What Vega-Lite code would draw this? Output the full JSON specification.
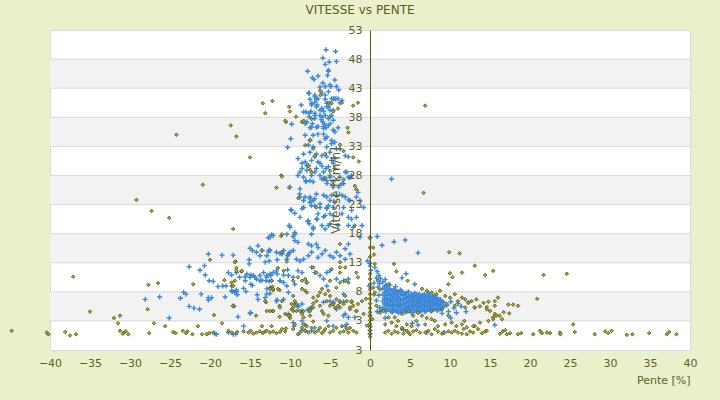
{
"$schema":"https://vega.github.io/schema/vega-lite/v6.json",
"width":640,"height":320,
"autosize":{"type":"none"},
"padding":{"left":50,"top":30,"right":30,"bottom":50},
"background":"#ebf0cc",
"config":{"view":{"fill":"white","stroke":"#d9d9d9","strokeWidth":1},"font":"DejaVu Sans","axis":{"labelOverlap":false,"labelFlush":false},"axisY":{"labelOverlap":false}},
"title":{"text":"VITESSE vs PENTE","fontSize":12,"font":"DejaVu Sans","fontWeight":"normal","color":"#5c5c1a","offset":7,"dx":-10},
"datasets":{
"bandes":[{"a":3,"b":8},{"a":13,"b":18},{"a":23,"b":28},{"a":33,"b":38},{"a":43,"b":48}],
"grille":[{"g":3},{"g":8},{"g":13},{"g":18},{"g":23},{"g":28},{"g":33},{"g":38},{"g":43},{"g":48}],
"bleu":[
{"x":0.9,"y":17.5},{"x":1.5,"y":16.0},{"x":3.0,"y":16.6},{"x":4.4,"y":16.9},{"x":6.0,"y":14.7},{"x":0,"y":12.9},{"x":0.1,"y":11.7},{"x":4.0,"y":10.4},{"x":5.6,"y":9.3},{"x":7.3,"y":7.8},{"x":9.0,"y":4.3},{"x":10.1,"y":3.5},{"x":12.3,"y":6.2},{"x":15.6,"y":2.3},{"x":6.0,"y":2.3},{"x":7.1,"y":1.0},{"x":9.3,"y":1.0},{"x":1.9,"y":3.5},{"x":2.7,"y":4.7},{"x":5.3,"y":2.6},{"x":4.2,"y":1.5},{"x":1.4,"y":4.8},{"x":4.5,"y":11.1},{"x":2.7,"y":27.4},
{"x":0,"y":0.8},{"x":0,"y":1.4},{"x":0,"y":2.1},{"x":-0.3,"y":13.3},{"x":-0.1,"y":9.0},{"x":0,"y":4.0},
{"x":1.6,"y":5.2},{"x":1.6,"y":6.4},{"x":1.6,"y":7.5},{"x":1.6,"y":8.6},
{"x":2.0,"y":4.6},{"x":2.0,"y":5.6},{"x":2.0,"y":6.5},{"x":2.0,"y":7.4},{"x":2.0,"y":8.3},{"x":2.0,"y":9.2},
{"x":2.4,"y":4.9},{"x":2.4,"y":5.8},{"x":2.4,"y":6.7},{"x":2.4,"y":7.6},{"x":2.4,"y":8.5},
{"x":2.8,"y":4.5},{"x":2.8,"y":5.4},{"x":2.8,"y":6.2},{"x":2.8,"y":7.1},{"x":2.8,"y":8.0},
{"x":3.2,"y":4.8},{"x":3.2,"y":5.7},{"x":3.2,"y":6.6},{"x":3.2,"y":7.5},{"x":3.2,"y":8.2},
{"x":3.6,"y":4.4},{"x":3.6,"y":5.3},{"x":3.6,"y":6.1},{"x":3.6,"y":7.0},{"x":3.6,"y":7.9},
{"x":4.0,"y":4.7},{"x":4.0,"y":5.6},{"x":4.0,"y":6.5},{"x":4.0,"y":7.4},{"x":4.0,"y":8.1},
{"x":4.4,"y":4.5},{"x":4.4,"y":5.2},{"x":4.4,"y":6.0},{"x":4.4,"y":6.9},{"x":4.4,"y":7.7},
{"x":4.8,"y":4.8},{"x":4.8,"y":5.6},{"x":4.8,"y":6.4},{"x":4.8,"y":7.2},{"x":4.8,"y":8.0},
{"x":5.2,"y":4.4},{"x":5.2,"y":5.3},{"x":5.2,"y":6.1},{"x":5.2,"y":6.9},{"x":5.2,"y":7.6},
{"x":5.6,"y":4.7},{"x":5.6,"y":5.5},{"x":5.6,"y":6.3},{"x":5.6,"y":7.1},{"x":5.6,"y":7.8},
{"x":6.0,"y":4.5},{"x":6.0,"y":5.2},{"x":6.0,"y":6.0},{"x":6.0,"y":6.8},{"x":6.0,"y":7.5},
{"x":6.4,"y":4.8},{"x":6.4,"y":5.6},{"x":6.4,"y":6.4},{"x":6.4,"y":7.2},
{"x":6.8,"y":4.6},{"x":6.8,"y":5.3},{"x":6.8,"y":6.1},{"x":6.8,"y":6.9},{"x":6.8,"y":7.6},
{"x":7.2,"y":4.9},{"x":7.2,"y":5.7},{"x":7.2,"y":6.5},{"x":7.2,"y":7.3},
{"x":7.6,"y":4.7},{"x":7.6,"y":5.4},{"x":7.6,"y":6.2},{"x":7.6,"y":7.0},
{"x":8.0,"y":5.0},{"x":8.0,"y":5.8},{"x":8.0,"y":6.6},{"x":8.0,"y":7.3},
{"x":8.4,"y":4.8},{"x":8.4,"y":5.5},{"x":8.4,"y":6.3},{"x":8.4,"y":7.0},
{"x":8.8,"y":5.1},{"x":8.8,"y":5.9},{"x":8.8,"y":6.7},
{"x":9.2,"y":5.4},{"x":9.2,"y":6.2},
{"x":1.8,"y":4.9},{"x":1.8,"y":5.9},{"x":1.8,"y":6.9},{"x":1.8,"y":7.9},{"x":1.8,"y":8.9},
{"x":2.2,"y":5.1},{"x":2.2,"y":6.1},{"x":2.2,"y":7.0},{"x":2.2,"y":7.9},{"x":2.2,"y":8.8},
{"x":2.6,"y":4.7},{"x":2.6,"y":5.6},{"x":2.6,"y":6.5},{"x":2.6,"y":7.4},{"x":2.6,"y":8.3},
{"x":3.0,"y":5.0},{"x":3.0,"y":5.9},{"x":3.0,"y":6.8},{"x":3.0,"y":7.7},{"x":3.0,"y":8.5},
{"x":3.4,"y":4.6},{"x":3.4,"y":5.5},{"x":3.4,"y":6.4},{"x":3.4,"y":7.2},{"x":3.4,"y":8.0},
{"x":3.8,"y":4.9},{"x":3.8,"y":5.8},{"x":3.8,"y":6.7},{"x":3.8,"y":7.6},{"x":3.8,"y":8.3},
{"x":4.2,"y":5.0},{"x":4.2,"y":5.9},{"x":4.2,"y":6.7},{"x":4.2,"y":7.5},
{"x":4.6,"y":4.6},{"x":4.6,"y":5.4},{"x":4.6,"y":6.2},{"x":4.6,"y":7.0},{"x":4.6,"y":7.8},
{"x":5.0,"y":4.9},{"x":5.0,"y":5.7},{"x":5.0,"y":6.5},{"x":5.0,"y":7.3},
{"x":5.4,"y":5.0},{"x":5.4,"y":5.8},{"x":5.4,"y":6.6},{"x":5.4,"y":7.4},
{"x":5.8,"y":4.9},{"x":5.8,"y":5.7},{"x":5.8,"y":6.5},{"x":5.8,"y":7.3},
{"x":6.2,"y":4.6},{"x":6.2,"y":5.4},{"x":6.2,"y":6.2},{"x":6.2,"y":7.0},{"x":6.2,"y":7.6},
{"x":6.6,"y":5.0},{"x":6.6,"y":5.8},{"x":6.6,"y":6.6},{"x":6.6,"y":7.4},
{"x":7.0,"y":4.7},{"x":7.0,"y":5.5},{"x":7.0,"y":6.3},{"x":7.0,"y":7.1},
{"x":7.4,"y":5.1},{"x":7.4,"y":5.9},{"x":7.4,"y":6.7},{"x":7.4,"y":7.4},
{"x":7.8,"y":4.9},{"x":7.8,"y":5.7},{"x":7.8,"y":6.5},{"x":7.8,"y":7.2},
{"x":8.2,"y":5.2},{"x":8.2,"y":6.0},{"x":8.2,"y":6.8},
{"x":8.6,"y":5.0},{"x":8.6,"y":5.7},{"x":8.6,"y":6.5},
{"x":9.0,"y":5.6},{"x":9.0,"y":6.4},
{"x":0.6,"y":12.2},{"x":0.9,"y":11.5},{"x":1.1,"y":10.8},{"x":1.3,"y":10.3},{"x":1.6,"y":9.7},{"x":1.9,"y":10.1},{"x":1.2,"y":9.4},{"x":0.8,"y":10.4},{"x":2.5,"y":9.2},{"x":3.2,"y":8.9},{"x":0.5,"y":9.5},{"x":1.0,"y":8.8},{"x":0.8,"y":6.5},{"x":1.1,"y":7.4},{"x":1.2,"y":5.3},{"x":0.9,"y":4.6},
{"x":9.6,"y":5.7},{"x":10.1,"y":6.3},{"x":10.5,"y":5.2},{"x":11.0,"y":6.0},{"x":11.4,"y":5.5},{"x":12.0,"y":4.6},{"x":9.8,"y":4.6},{"x":10.8,"y":4.4},
{"x":-5.5,"y":49.6},{"x":-4.3,"y":49.3},{"x":-5.9,"y":48.2},{"x":-5.1,"y":47.5},{"x":-5.6,"y":47.1},{"x":-4.2,"y":47.6},{"x":-7.8,"y":45.9},{"x":-5.2,"y":46.1},{"x":-7.2,"y":44.8},{"x":-7.0,"y":44.5},{"x":-6.5,"y":45.1},{"x":-5.3,"y":45.2},{"x":-5.0,"y":43.6},{"x":-4.9,"y":43.3},{"x":-4.2,"y":43.3},{"x":-3.9,"y":42.7},{"x":-5.9,"y":43.9},{"x":-6.25,"y":43.2},{"x":-7.6,"y":42.1},{"x":-6.9,"y":41.5},{"x":-6.7,"y":41.1},{"x":-6.9,"y":40.6},{"x":-5.6,"y":41.1},{"x":-5.4,"y":40.4},{"x":-5.2,"y":39.8},{"x":-4.6,"y":41.2},{"x":-4.25,"y":41.2},{"x":-3.75,"y":40.5},{"x":-8.6,"y":40.1},{"x":-8.0,"y":38.9},{"x":-7.4,"y":39.0},{"x":-6.9,"y":38.7},{"x":-6.25,"y":38.3},{"x":-6.1,"y":37.6},{"x":-5.9,"y":37.2},{"x":-5.7,"y":36.8},{"x":-5.5,"y":36.2},{"x":-9.8,"y":36.8},{"x":-7.9,"y":37.2},{"x":-7.5,"y":36.2},{"x":-7.1,"y":34.9},{"x":-6.5,"y":35.1},{"x":-5.8,"y":35.1},{"x":-5.4,"y":34.6},{"x":-4.8,"y":34.0},{"x":-4.4,"y":33.7},{"x":-3.75,"y":32.6},{"x":-3.1,"y":31.4},{"x":-2.7,"y":31.2},{"x":-9.9,"y":34.3},{"x":-10.3,"y":32.8},{"x":-9.0,"y":30.9},{"x":-8.5,"y":30.1},{"x":-7.9,"y":29.7},{"x":-7.3,"y":30.6},{"x":-6.9,"y":31.2},{"x":-6.5,"y":30.3},{"x":-6.0,"y":29.6},{"x":-5.5,"y":29.2},{"x":-4.8,"y":30.6},{"x":-8.75,"y":28.6},{"x":-8.3,"y":27.7},{"x":-8.0,"y":26.9},{"x":-7.5,"y":27.1},{"x":-6.9,"y":28.6},{"x":-6.25,"y":28.0},{"x":-5.8,"y":27.4},{"x":-5.4,"y":27.1},{"x":-5.0,"y":28.0},{"x":-4.6,"y":26.9},{"x":-3.9,"y":26.0},{"x":-3.3,"y":26.6},{"x":-3.1,"y":28.6},{"x":-2.7,"y":27.7},{"x":-2.3,"y":28.0},{"x":-8.8,"y":24.8},{"x":-8.75,"y":24.3},{"x":-8.3,"y":23.7},{"x":-7.5,"y":24.3},{"x":-6.9,"y":24.0},{"x":-6.25,"y":23.1},{"x":-5.4,"y":24.3},{"x":-4.8,"y":24.6},{"x":-4.4,"y":23.4},{"x":-3.5,"y":24.6},{"x":-2.7,"y":23.8},{"x":-1.7,"y":24.3},{"x":-1.25,"y":23.7},{"x":-9.9,"y":22.1},
{"x":-7.7,"y":42.2},{"x":-7.5,"y":41.1},{"x":-6.9,"y":41.8},{"x":-6.5,"y":41.2},{"x":-6.0,"y":42.2},{"x":-5.6,"y":41.8},{"x":-5.2,"y":42.4},{"x":-4.8,"y":41.2},{"x":-4.4,"y":41.2},{"x":-4.0,"y":41.2},{"x":-3.5,"y":40.9},{"x":-7.3,"y":40.1},{"x":-6.7,"y":39.8},{"x":-6.0,"y":39.5},{"x":-5.0,"y":39.2},{"x":-8.3,"y":38.9},{"x":-7.6,"y":38.1},{"x":-6.9,"y":38.3},{"x":-5.6,"y":38.3},{"x":-5.0,"y":38.1},{"x":-4.6,"y":37.5},{"x":-8.1,"y":36.9},{"x":-7.3,"y":36.3},{"x":-6.7,"y":36.3},{"x":-5.8,"y":36.4},{"x":-5.2,"y":36.6},{"x":-4.0,"y":36.2},{"x":-5.2,"y":45.9},{"x":-4.4,"y":44.4},{"x":-5.6,"y":43.3},
{"x":-7.6,"y":38.7},{"x":-7.3,"y":40.4},{"x":-6.6,"y":40.1},{"x":-6.25,"y":39.2},{"x":-5.8,"y":39.0},{"x":-5.4,"y":39.8},{"x":-5.0,"y":40.4},{"x":-4.6,"y":39.2},{"x":-4.8,"y":38.3},{"x":-5.2,"y":37.8},{"x":-6.0,"y":38.0},{"x":-6.9,"y":37.8},{"x":-7.2,"y":36.9},{"x":-6.5,"y":36.4},{"x":-5.8,"y":36.1},{"x":-5.0,"y":36.9},{"x":-4.6,"y":35.8},{"x":-4.4,"y":35.5},
{"x":-8.1,"y":34.9},{"x":-7.5,"y":34.0},{"x":-7.7,"y":33.2},{"x":-7.1,"y":32.9},{"x":-6.25,"y":33.7},{"x":-5.6,"y":34.3},{"x":-5.4,"y":32.9},{"x":-4.8,"y":33.5},{"x":-4.2,"y":32.6},{"x":-7.5,"y":32.0},{"x":-6.7,"y":31.7},{"x":-6.0,"y":31.4},{"x":-5.4,"y":31.2},{"x":-5.0,"y":32.0},{"x":-4.4,"y":30.9},{"x":-8.3,"y":31.7},
{"x":-8.1,"y":30.3},{"x":-7.7,"y":29.7},{"x":-7.9,"y":28.9},{"x":-7.3,"y":28.0},{"x":-8.0,"y":27.1},{"x":-7.1,"y":26.9},{"x":-6.7,"y":29.2},{"x":-6.25,"y":30.1},{"x":-5.8,"y":28.6},{"x":-5.2,"y":29.5},{"x":-4.6,"y":30.1},{"x":-4.4,"y":29.2},{"x":-5.0,"y":27.7},{"x":-6.0,"y":27.4},{"x":-5.4,"y":26.6},{"x":-4.6,"y":26.0},{"x":-3.75,"y":27.7},{"x":-3.5,"y":26.6},{"x":-2.9,"y":28.6},{"x":-2.5,"y":27.7},{"x":-8.5,"y":29.2},{"x":-9.0,"y":28.0},
{"x":-8.75,"y":25.7},{"x":-8.1,"y":24.3},{"x":-7.5,"y":24.0},{"x":-6.7,"y":24.8},{"x":-7.1,"y":23.7},{"x":-5.8,"y":24.6},{"x":-5.0,"y":23.7},{"x":-4.2,"y":24.6},{"x":-3.1,"y":24.3},{"x":-2.5,"y":23.7},{"x":-1.5,"y":25.1},{"x":-0.8,"y":22.5},{"x":-2.3,"y":22.0},{"x":-3.3,"y":22.5},{"x":-4.6,"y":22.5},{"x":-5.4,"y":22.3},{"x":-6.25,"y":22.5},{"x":-7.3,"y":22.8},{"x":-8.3,"y":22.5},{"x":-9.8,"y":22.0},{"x":-10.0,"y":26.0},
{"x":-8.75,"y":20.8},{"x":-7.7,"y":20.2},{"x":-6.7,"y":20.5},{"x":-5.6,"y":21.1},{"x":-4.6,"y":21.1},{"x":-3.5,"y":21.4},{"x":-2.7,"y":20.8},{"x":-2.3,"y":20.5},{"x":-1.7,"y":20.8},{"x":-7.1,"y":19.1},{"x":-6.0,"y":19.4},{"x":-5.0,"y":19.7},{"x":-4.0,"y":19.4},{"x":-2.7,"y":19.4},{"x":-2.1,"y":19.1},{"x":-1.0,"y":19.4},{"x":-10.0,"y":19.1},{"x":-9.4,"y":18.2},{"x":-10.4,"y":17.9},{"x":-1.25,"y":17.4},{"x":0,"y":17.4},
{"x":-9.4,"y":21.5},{"x":-10.1,"y":19.4},{"x":-7.8,"y":20.1},{"x":-7.6,"y":19.7},{"x":-6.5,"y":21.4},{"x":-6.6,"y":20.5},{"x":-5.8,"y":20.9},{"x":-5.4,"y":22.5},{"x":-5.2,"y":22.8},{"x":-5.0,"y":21.4},{"x":-5.2,"y":19.4},{"x":-5.6,"y":18.8},{"x":-7.1,"y":18.8},{"x":-7.3,"y":17.9},{"x":-9.4,"y":17.9},{"x":-9.6,"y":17.5},{"x":-12.1,"y":17.7},{"x":-12.5,"y":17.4},{"x":-9.4,"y":16.8},{"x":-9.0,"y":16.5},{"x":-7.7,"y":16.2},{"x":-7.3,"y":15.9},{"x":-6.7,"y":16.2},{"x":-6.5,"y":15.6},{"x":-11.7,"y":14.8},{"x":-11.25,"y":14.6},{"x":-10.8,"y":15.1},{"x":-11.0,"y":14.5},{"x":-10.3,"y":14.2},{"x":-10.0,"y":14.8},{"x":-9.6,"y":15.1},{"x":-14.2,"y":14.8},{"x":-13.5,"y":15.1},{"x":-12.9,"y":14.2},{"x":-12.5,"y":15.1},{"x":-13.1,"y":13.1},{"x":-9.2,"y":13.6},{"x":-8.75,"y":13.3},{"x":-8.3,"y":13.6},{"x":-7.7,"y":14.2},{"x":-7.3,"y":14.8},{"x":-6.5,"y":13.9},{"x":-6.0,"y":14.5},{"x":-5.6,"y":15.1},{"x":-5.0,"y":14.2},{"x":-4.6,"y":13.9},{"x":-4.2,"y":14.8},{"x":-3.75,"y":14.2},{"x":-3.1,"y":13.6},{"x":-2.5,"y":14.5},{"x":-3.1,"y":15.4},{"x":-2.7,"y":16.2},
{"x":-15.4,"y":11.05},{"x":-15.0,"y":10.5},{"x":-14.6,"y":10.8},{"x":-14.2,"y":10.2},{"x":-15.6,"y":9.9},{"x":-13.75,"y":9.9},{"x":-13.3,"y":11.3},{"x":-12.9,"y":10.8},{"x":-12.5,"y":11.05},{"x":-12.3,"y":9.9},{"x":-11.7,"y":11.6},{"x":-11.25,"y":9.9},{"x":-10.8,"y":9.6},{"x":-10.2,"y":10.8},{"x":-9.6,"y":10.5},{"x":-9.4,"y":9.3},{"x":-9.0,"y":11.6},{"x":-8.5,"y":11.3},{"x":-7.9,"y":9.6},{"x":-7.3,"y":12.2},{"x":-6.9,"y":11.3},{"x":-6.25,"y":10.8},{"x":-5.4,"y":11.3},{"x":-5.0,"y":11.6},{"x":-4.2,"y":10.2},{"x":-3.3,"y":9.9},{"x":-2.7,"y":10.2},
{"x":-17.3,"y":8.2},{"x":-16.9,"y":7.9},{"x":-16.7,"y":8.3},{"x":-17.1,"y":5.6},{"x":-12.9,"y":8.5},{"x":-13.1,"y":7.0},{"x":-11.7,"y":6.4},{"x":-10.8,"y":6.7},{"x":-10.2,"y":7.9},{"x":-9.4,"y":5.9},{"x":-9.0,"y":5.6},{"x":-8.5,"y":4.7},{"x":-7.7,"y":5.0},{"x":-7.3,"y":5.3},{"x":-14.9,"y":4.4},{"x":-15.8,"y":2.1},{"x":-5.8,"y":10.2},{"x":-5.4,"y":9.0},{"x":-5.0,"y":6.4},{"x":-4.6,"y":6.2},{"x":-4.2,"y":5.0},{"x":-3.75,"y":6.4},{"x":-3.3,"y":7.6},{"x":-3.1,"y":4.2},{"x":-2.9,"y":2.4},{"x":-9.6,"y":2.7},{"x":-8.5,"y":3.0},{"x":-8.1,"y":1.3},{"x":-6.9,"y":1.8},{"x":-8.5,"y":22.3},{"x":-7.5,"y":23.4},{"x":-6.9,"y":22.8},
{"x":-12.7,"y":17.3},{"x":-12.3,"y":17.8},{"x":-15.0,"y":15.5},{"x":-14.0,"y":15.9},{"x":-14.7,"y":15.1},{"x":-13.75,"y":14.2},{"x":-12.7,"y":14.9},{"x":-12.6,"y":15.2},{"x":-10.2,"y":14.5},{"x":-20.2,"y":14.5},{"x":-18.5,"y":14.3},{"x":-17.1,"y":14.3},{"x":-15.1,"y":13.5},{"x":-15.1,"y":12.8},{"x":-12.6,"y":13.3},{"x":-11.6,"y":13.5},{"x":-10.4,"y":13.6},{"x":-22.6,"y":12.3},{"x":-20.7,"y":12.5},{"x":-21.25,"y":11.7},{"x":-20.6,"y":10.9},
{"x":-17.7,"y":11.3},{"x":-17.3,"y":10.9},{"x":-16.7,"y":11.3},{"x":-16.3,"y":10.5},{"x":-15.6,"y":10.6},{"x":-14.9,"y":10.9},{"x":-14.4,"y":10.5},{"x":-13.75,"y":10.8},{"x":-12.9,"y":10.5},{"x":-12.4,"y":10.8},{"x":-12.1,"y":11.3},{"x":-11.6,"y":11.05},{"x":-10.8,"y":10.9},{"x":-10.3,"y":11.8},
{"x":-20.1,"y":9.9},{"x":-19.6,"y":9.8},{"x":-19.0,"y":8.9},{"x":-18.4,"y":9.0},{"x":-18.0,"y":9.0},{"x":-17.2,"y":8.05},{"x":-16.7,"y":8.05},{"x":-15.8,"y":8.6},{"x":-14.9,"y":9.3},{"x":-14.7,"y":9.1},{"x":-13.5,"y":10.0},{"x":-13.0,"y":9.9},{"x":-12.6,"y":9.8},{"x":-12.5,"y":8.7},{"x":-11.25,"y":9.9},{"x":-10.4,"y":9.0},
{"x":-23.3,"y":7.9},{"x":-23.0,"y":7.6},{"x":-21.1,"y":7.6},{"x":-20.2,"y":7.0},{"x":-20.2,"y":6.6},{"x":-19.8,"y":7.0},{"x":-18.1,"y":7.1},{"x":-16.6,"y":7.5},{"x":-15.5,"y":8.05},{"x":-14.1,"y":7.5},{"x":-14.0,"y":6.7},{"x":-12.9,"y":7.6},{"x":-12.5,"y":7.7},{"x":-11.6,"y":6.6},
{"x":-28.1,"y":6.7},{"x":-26.3,"y":7.1},{"x":-23.7,"y":6.9},{"x":-22.6,"y":5.5},{"x":-22.0,"y":5.2},{"x":-21.3,"y":5.0},{"x":-25.1,"y":3.5},{"x":-15.0,"y":4.3},{"x":-16.5,"y":3.7},{"x":-19.4,"y":0.8},{"x":-17.1,"y":0.7},{"x":-17.7,"y":1.0},
{"x":-10.2,"y":4.2},{"x":-9.5,"y":2.1},{"x":-9.2,"y":5.8},{"x":-9.0,"y":5.4},{"x":-8.5,"y":5.9},{"x":-8.1,"y":2.3},{"x":-7.7,"y":4.8},{"x":-7.5,"y":5.0},{"x":-8.5,"y":1.4},{"x":-7.3,"y":1.3},{"x":-5.4,"y":3.0},{"x":-4.6,"y":2.1},{"x":-4.6,"y":6.0},{"x":-5.8,"y":6.2},{"x":-3.3,"y":3.9},{"x":-3.1,"y":2.1},{"x":-2.7,"y":3.6},{"x":-1.9,"y":3.6},{"x":-3.3,"y":6.3},{"x":-19.2,"y":0.7},{"x":-16.8,"y":0.7}
],
"olive":[
{"x":-44.8,"y":1.3},{"x":-40.4,"y":1.0},{"x":-40.2,"y":0.7},{"x":-38.1,"y":1.1},{"x":-37.5,"y":0.5},{"x":-36.75,"y":0.7},{"x":-35.0,"y":4.6},{"x":-37.1,"y":10.6},{"x":-32.0,"y":3.5},{"x":-31.25,"y":3.9},{"x":-31.5,"y":2.6},{"x":-31.25,"y":1.3},{"x":-30.75,"y":1.0},{"x":-30.5,"y":1.2},{"x":-30.2,"y":0.7},{"x":-30.9,"y":0.8},{"x":-27.8,"y":5.0},{"x":-27.6,"y":0.9},{"x":-27.0,"y":2.6},{"x":-25.6,"y":2.1},{"x":-24.6,"y":1.1},{"x":-24.3,"y":0.9},{"x":-23.4,"y":1.3},{"x":-23.0,"y":0.9},{"x":-22.8,"y":1.2},{"x":-22.2,"y":0.7},{"x":-21.5,"y":2.1},{"x":-21.0,"y":0.7},{"x":-20.4,"y":0.7},{"x":-20.1,"y":0.9},{"x":-19.6,"y":1.0},{"x":-19.5,"y":4.0},{"x":-18.5,"y":2.6},{"x":-17.7,"y":1.3},{"x":-17.25,"y":1.0},{"x":-16.6,"y":1.1},{"x":-17.0,"y":5.5},{"x":-15.8,"y":1.2},{"x":-15.2,"y":1.0},{"x":-14.9,"y":1.3},{"x":-14.6,"y":0.8},{"x":-14.2,"y":1.0},{"x":-13.75,"y":1.2},{"x":-13.4,"y":0.9},{"x":-13.1,"y":1.2},{"x":-12.9,"y":1.3},{"x":-14.25,"y":3.9},{"x":-13.5,"y":2.1},{"x":-12.9,"y":4.7},{"x":-12.2,"y":4.7},{"x":-12.3,"y":2.1},{"x":-12.5,"y":1.0},{"x":-12.1,"y":1.2},{"x":-11.7,"y":0.9},{"x":-11.25,"y":1.1},{"x":-10.6,"y":1.2},{"x":-10.5,"y":1.7},{"x":-11.0,"y":1.6},{"x":-11.3,"y":5.6},{"x":-13.0,"y":6.2},{"x":-10.1,"y":3.9},{"x":-10.0,"y":3.5},{"x":-11.3,"y":3.7},
{"x":-9.6,"y":1.6},{"x":-9.4,"y":2.4},{"x":-9.0,"y":0.7},{"x":-8.75,"y":1.0},{"x":-8.5,"y":1.8},{"x":-8.3,"y":2.4},{"x":-8.1,"y":1.3},{"x":-7.9,"y":2.1},{"x":-7.7,"y":1.0},{"x":-7.3,"y":1.8},{"x":-7.1,"y":2.9},{"x":-6.9,"y":1.0},{"x":-6.5,"y":1.3},{"x":-6.25,"y":1.8},{"x":-6.0,"y":0.9},{"x":-5.8,"y":1.2},{"x":-5.6,"y":1.6},{"x":-5.2,"y":2.1},{"x":-5.0,"y":1.0},{"x":-4.6,"y":1.3},{"x":-4.2,"y":1.8},{"x":-3.75,"y":1.0},{"x":-3.5,"y":2.1},{"x":-3.3,"y":1.2},{"x":-2.9,"y":1.6},{"x":-2.7,"y":1.0},{"x":-2.5,"y":1.8},{"x":-2.1,"y":1.3},{"x":-1.7,"y":1.0},
{"x":-9.8,"y":5.9},{"x":-9.6,"y":5.3},{"x":-9.2,"y":4.7},{"x":-8.5,"y":4.2},{"x":-8.3,"y":3.6},{"x":-7.5,"y":3.9},{"x":-7.3,"y":5.3},{"x":-7.1,"y":6.0},{"x":-6.25,"y":5.6},{"x":-6.0,"y":4.7},{"x":-5.8,"y":4.2},{"x":-5.2,"y":3.9},{"x":-5.0,"y":5.6},{"x":-4.4,"y":5.3},{"x":-4.0,"y":5.6},{"x":-3.75,"y":6.2},{"x":-2.5,"y":5.3},{"x":-2.3,"y":6.2},{"x":-1.7,"y":4.7},{"x":-1.5,"y":5.9},
{"x":-17.4,"y":36.6},{"x":-16.7,"y":34.7},{"x":-24.2,"y":35.0},{"x":-15.0,"y":31.1},{"x":-10.5,"y":37.2},{"x":-11.1,"y":28.0},{"x":-11.7,"y":25.9},{"x":-10.1,"y":25.9},{"x":-20.9,"y":26.4},{"x":-29.2,"y":23.8},{"x":-27.3,"y":21.9},{"x":-25.1,"y":20.7},{"x":-17.1,"y":18.8},{"x":-11.1,"y":17.6},{"x":-20.0,"y":13.5},{"x":-16.8,"y":13.2},{"x":-16.7,"y":12.1},{"x":-17.3,"y":9.6},{"x":-17.3,"y":9.0},{"x":-18.2,"y":10.0},{"x":-16.1,"y":11.5},{"x":-13.5,"y":15.1},{"x":-11.5,"y":12.1},{"x":-10.4,"y":13.2},{"x":-11.0,"y":14.8},{"x":-12.2,"y":8.9},{"x":-12.1,"y":8.3},{"x":-11.3,"y":8.3},{"x":-22.1,"y":9.3},{"x":-26.5,"y":9.5},{"x":-27.7,"y":9.2},
{"x":-13.4,"y":40.4},{"x":-12.2,"y":40.8},{"x":-13.1,"y":38.7},{"x":-10.1,"y":39.8},{"x":-10.0,"y":39.0},{"x":-9.25,"y":38.1},{"x":-10.6,"y":37.4},{"x":-8.5,"y":37.2},{"x":-8.3,"y":37.4},{"x":-7.3,"y":37.7},{"x":-6.25,"y":42.6},{"x":-6.2,"y":41.8},{"x":-5.2,"y":40.5},{"x":-4.8,"y":40.4},{"x":-4.6,"y":39.0},{"x":-4.0,"y":39.5},{"x":-3.5,"y":40.5},{"x":-2.1,"y":40.0},{"x":-1.5,"y":40.5},{"x":-2.8,"y":36.2},{"x":-2.7,"y":35.4},{"x":-8.1,"y":33.2},{"x":-7.5,"y":34.1},{"x":-7.1,"y":32.6},{"x":-6.9,"y":31.4},{"x":-5.6,"y":31.7},{"x":-3.75,"y":33.3},{"x":-3.3,"y":32.2},{"x":-2.1,"y":31.1},{"x":-1.4,"y":30.4},{"x":-7.7,"y":29.6},{"x":-7.5,"y":29.0},{"x":-7.3,"y":28.5},{"x":-5.0,"y":28.8},{"x":-5.6,"y":27.6},{"x":-4.6,"y":26.4},{"x":-3.3,"y":27.3},{"x":-1.9,"y":26.2},{"x":-1.7,"y":25.6},{"x":-11.0,"y":27.8},{"x":-8.96,"y":24.1},{"x":-6.7,"y":22.5},
{"x":-9.6,"y":9.9},{"x":-9.0,"y":10.5},{"x":-8.5,"y":9.9},{"x":-8.1,"y":10.2},{"x":-7.9,"y":9.6},{"x":-8.5,"y":8.5},{"x":-8.1,"y":8.2},{"x":-9.6,"y":7.3},{"x":-9.4,"y":6.4},{"x":-9.2,"y":5.9},{"x":-9.8,"y":5.0},{"x":-10.0,"y":3.9},{"x":-9.6,"y":4.7},{"x":-8.75,"y":4.7},{"x":-8.3,"y":4.7},{"x":-7.5,"y":4.7},{"x":-7.1,"y":5.3},{"x":-6.7,"y":6.4},{"x":-7.1,"y":7.0},{"x":-6.5,"y":7.3},{"x":-6.25,"y":7.9},{"x":-6.0,"y":8.5},{"x":-5.6,"y":7.6},{"x":-5.2,"y":8.2},{"x":-5.0,"y":7.3},{"x":-5.4,"y":6.4},{"x":-4.6,"y":5.9},{"x":-4.2,"y":6.7},{"x":-3.75,"y":5.3},{"x":-3.3,"y":5.9},{"x":-3.1,"y":7.3},{"x":-2.9,"y":6.4},{"x":-2.5,"y":5.0},{"x":-2.3,"y":6.4},{"x":-2.1,"y":5.6},{"x":-1.7,"y":4.7},{"x":-4.2,"y":8.7},{"x":-3.75,"y":9.6},{"x":-3.1,"y":9.9},{"x":-2.7,"y":9.6},{"x":-5.0,"y":9.9},{"x":-7.1,"y":12.2},{"x":-6.7,"y":11.3},{"x":-4.8,"y":11.9},{"x":-3.75,"y":11.3},{"x":-3.75,"y":12.2},{"x":-1.9,"y":19.4},{"x":-3.75,"y":16.2},{"x":-3.1,"y":12.2},{"x":-3.75,"y":13.1},{"x":-1.5,"y":10.5},{"x":-1.7,"y":11.3},{"x":-0.8,"y":4.2},{"x":-1.0,"y":6.4},{"x":-7.9,"y":7.9},{"x":-10.8,"y":11.6},{"x":-11.0,"y":6.4},{"x":-10.2,"y":3.9},{"x":-10.6,"y":4.2},
{"x":-16.9,"y":13.1},{"x":-16.7,"y":11.6},{"x":-16.0,"y":11.6},{"x":-16.9,"y":9.9},{"x":-17.1,"y":9.0},{"x":-17.1,"y":5.6},{"x":-12.3,"y":9.9},{"x":-12.1,"y":8.5},{"x":-11.5,"y":8.5},{"x":-12.5,"y":8.5},{"x":-13.1,"y":6.4},{"x":-12.5,"y":4.7},{"x":-12.1,"y":4.7},{"x":-11.25,"y":5.3},{"x":-11.0,"y":17.9},
{"x":0,"y":0.3},{"x":0,"y":0.8},{"x":0,"y":1.3},{"x":0,"y":1.9},{"x":0,"y":2.5},{"x":0,"y":3.1},{"x":0,"y":3.8},{"x":0,"y":4.5},{"x":0,"y":5.2},{"x":0,"y":6.0},{"x":0,"y":6.8},{"x":0,"y":7.6},{"x":0,"y":8.4},{"x":0,"y":9.3},{"x":0,"y":10.2},{"x":0,"y":11.1},{"x":0,"y":12.5},{"x":0,"y":14.0},{"x":0,"y":15.6},{"x":0,"y":17.2},{"x":-0.4,"y":2.2},{"x":0.3,"y":3.3},{"x":-0.5,"y":6.8},{"x":0.5,"y":7.5},
{"x":1.9,"y":1.0},{"x":2.3,"y":1.3},{"x":2.7,"y":0.8},{"x":3.1,"y":1.2},{"x":3.5,"y":1.0},{"x":4.0,"y":1.6},{"x":4.2,"y":0.8},{"x":4.6,"y":1.3},{"x":4.8,"y":1.0},{"x":5.0,"y":0.7},{"x":5.4,"y":1.2},{"x":5.8,"y":1.4},{"x":6.25,"y":1.0},{"x":6.9,"y":1.0},{"x":7.3,"y":1.3},{"x":7.7,"y":0.7},{"x":8.1,"y":1.6},{"x":8.5,"y":1.2},{"x":9.0,"y":0.8},{"x":9.2,"y":1.0},{"x":9.8,"y":1.2},{"x":10.2,"y":1.0},{"x":10.6,"y":1.3},{"x":11.0,"y":1.0},{"x":11.5,"y":0.8},{"x":11.7,"y":1.6},{"x":12.1,"y":0.7},{"x":12.5,"y":1.2},{"x":12.9,"y":1.0},{"x":13.1,"y":2.1},{"x":13.5,"y":1.6},{"x":14.0,"y":0.9},{"x":14.4,"y":1.2},{"x":14.6,"y":1.3},
{"x":16.25,"y":0.8},{"x":16.6,"y":1.2},{"x":16.9,"y":1.4},{"x":17.1,"y":0.7},{"x":17.5,"y":0.9},{"x":18.5,"y":0.7},{"x":18.9,"y":0.9},{"x":20.4,"y":0.7},{"x":21.25,"y":1.3},{"x":21.5,"y":0.9},{"x":22.1,"y":1.0},{"x":22.5,"y":0.9},{"x":23.75,"y":1.0},{"x":23.8,"y":0.7},{"x":25.4,"y":2.4},{"x":25.6,"y":1.1},{"x":28.1,"y":0.7},{"x":29.4,"y":1.2},{"x":29.8,"y":0.9},{"x":30.2,"y":1.3},{"x":32.1,"y":0.6},{"x":32.8,"y":0.7},{"x":34.9,"y":0.9},{"x":37.1,"y":0.7},{"x":37.4,"y":1.1},{"x":38.3,"y":0.7},
{"x":1.9,"y":2.4},{"x":2.7,"y":2.7},{"x":3.3,"y":2.1},{"x":4.0,"y":1.8},{"x":4.6,"y":2.4},{"x":5.2,"y":2.1},{"x":5.8,"y":3.0},{"x":6.9,"y":2.4},{"x":7.7,"y":3.3},{"x":8.5,"y":2.1},{"x":9.4,"y":2.4},{"x":10.2,"y":2.7},{"x":10.8,"y":2.1},{"x":11.5,"y":2.4},{"x":12.1,"y":1.9},{"x":12.9,"y":2.1},{"x":13.75,"y":2.7},{"x":14.8,"y":3.0},{"x":15.6,"y":4.2},{"x":15.4,"y":3.6},{"x":16.2,"y":3.9},{"x":16.7,"y":4.5},{"x":17.3,"y":5.8},{"x":17.9,"y":5.8},{"x":11.8,"y":3.0},{"x":13.1,"y":5.3},{"x":14.6,"y":5.4},{"x":14.8,"y":6.3},{"x":15.6,"y":5.6},
{"x":0.4,"y":15.6},{"x":0.5,"y":14.4},{"x":0.6,"y":12.8},{"x":9.9,"y":14.8},{"x":11.2,"y":14.6},{"x":13.1,"y":12.5},{"x":15.4,"y":11.6},{"x":14.4,"y":10.9},{"x":10.0,"y":11.2},{"x":11.5,"y":11.3},{"x":10.3,"y":10.5},{"x":9.8,"y":9.3},{"x":3.0,"y":12.8},{"x":3.3,"y":11.5},{"x":4.7,"y":9.9},{"x":2.3,"y":9.3},{"x":1.0,"y":9.9},{"x":0.4,"y":8.7},{"x":1.25,"y":8.4},{"x":0.6,"y":7.9},
{"x":6.5,"y":8.5},{"x":7.1,"y":8.2},{"x":7.7,"y":7.9},{"x":8.3,"y":7.6},{"x":8.75,"y":8.2},{"x":9.4,"y":7.3},{"x":10.0,"y":7.0},{"x":10.6,"y":7.6},{"x":11.0,"y":6.4},{"x":11.5,"y":7.0},{"x":11.9,"y":6.7},{"x":12.3,"y":6.1},{"x":12.7,"y":6.4},{"x":13.3,"y":6.7},{"x":13.75,"y":5.5},{"x":14.2,"y":6.1},{"x":14.6,"y":5.0},{"x":15.0,"y":4.7},{"x":15.6,"y":6.4},{"x":16.0,"y":7.0},{"x":15.8,"y":3.9},{"x":16.5,"y":3.3},{"x":15.4,"y":3.3},{"x":13.1,"y":5.3},{"x":11.9,"y":5.3},{"x":10.6,"y":5.6},{"x":9.6,"y":5.9},{"x":9.0,"y":5.0},{"x":9.8,"y":3.9},
{"x":0.8,"y":5.6},{"x":1.25,"y":4.4},{"x":1.7,"y":4.7},{"x":2.3,"y":3.6},{"x":3.1,"y":3.6},{"x":3.5,"y":3.0},{"x":4.0,"y":4.2},{"x":4.8,"y":4.7},{"x":5.4,"y":3.9},{"x":6.0,"y":4.4},{"x":6.5,"y":3.9},{"x":7.1,"y":3.5},{"x":7.7,"y":4.7},{"x":8.1,"y":3.0},
{"x":21.7,"y":10.9},{"x":24.6,"y":11.1},{"x":20.9,"y":6.8},{"x":18.5,"y":5.6},{"x":17.4,"y":4.3},{"x":6.9,"y":40.0},{"x":6.7,"y":25.0}
]
},
"layer":[
{"data":{"name":"bandes"},"mark":{"type":"rect","fill":"#f2f2f2"},
 "encoding":{"y":{"field":"a","type":"quantitative","scale":{"domain":[-2,53],"nice":false,"zero":false},
   "axis":{"values":[-2,3,8,13,18,23,28,33,38,43,48,53],"labelExpr":"datum.value < 0 ? '3' : datum.label","offset":-320,"zindex":1,"grid":false,"ticks":false,"tickSize":0,"domainColor":"#5a5a00","domainWidth":1,"labelColor":"#5f5f1e","labelFontSize":11,"labelPadding":8,"labelFlush":false,"labelOverlap":false,"title":"Vitesse [km/h]","titleColor":"#5f5f1e","titleFontSize":12,"titleFontWeight":"normal","titlePadding":6}},
  "y2":{"field":"b"}}},
{"data":{"name":"grille"},"mark":{"type":"rule","color":"#d9d9d9","strokeWidth":1},
 "encoding":{"y":{"field":"g","type":"quantitative","title":"Vitesse [km/h]","axis":{"values":[-2,3,8,13,18,23,28,33,38,43,48,53],"labelOverlap":false}}}},
{"data":{"name":"bleu"},"mark":{"type":"point","shape":"M-1,0H1M0,-1V1","filled":false,"color":"#3a87d8","size":25,"strokeWidth":1.4,"opacity":1},
 "encoding":{
  "x":{"field":"x","type":"quantitative","scale":{"domain":[-40,40],"nice":false,"zero":false},
   "axis":{"values":[-40,-35,-30,-25,-20,-15,-10,-5,0,5,10,15,20,25,30,35,40],"title":"Pente [%]","grid":false,"ticks":false,"domain":false,"labelColor":"#5f5f1e","labelFontSize":11,"labelPadding":7,"labelFlush":false,"labelOverlap":false,"titleColor":"#5f5f1e","titleFontSize":11,"titleFontWeight":"normal","titleAnchor":"end","titlePadding":6}},
  "y":{"field":"y","type":"quantitative","title":"Vitesse [km/h]","axis":{"values":[-2,3,8,13,18,23,28,33,38,43,48,53],"labelOverlap":false}}
 }},
{"data":{"name":"olive"},"mark":{"type":"point","shape":"diamond","filled":true,"fill":"#a8a840","stroke":"#4d4d00","strokeWidth":0.8,"size":13,"opacity":1},
 "encoding":{
  "x":{"field":"x","type":"quantitative","title":"Pente [%]","axis":{"values":[-40,-35,-30,-25,-20,-15,-10,-5,0,5,10,15,20,25,30,35,40],"labelOverlap":false}},
  "y":{"field":"y","type":"quantitative","title":"Vitesse [km/h]","axis":{"values":[-2,3,8,13,18,23,28,33,38,43,48,53],"labelOverlap":false}}
 }}
]
}
